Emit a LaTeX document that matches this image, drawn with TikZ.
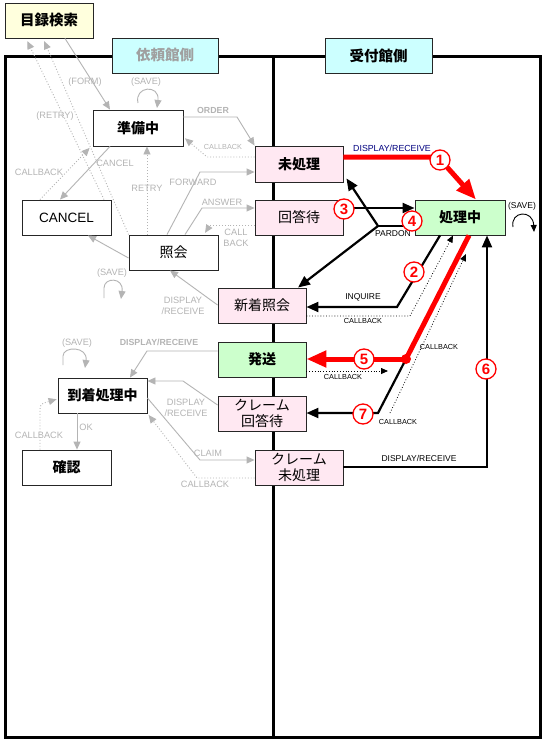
\documentclass[tikz,border=0pt]{standalone}
\usepackage{fontspec}
\setmainfont{Liberation Sans}
\newfontfamily\jp{Noto Sans CJK JP}
\usetikzlibrary{arrows.meta}
\definecolor{lg}{HTML}{B4B4B4}
\definecolor{pinkf}{HTML}{FFE8F2}
\definecolor{greenf}{HTML}{CCFFCC}
\definecolor{cyanf}{HTML}{CCFFFF}
\definecolor{yellowf}{HTML}{FFFFDD}
\definecolor{navyt}{HTML}{000080}
\definecolor{hdrgray}{HTML}{A0A0A0}
\begin{document}
\begin{tikzpicture}[x=1pt,y=-1pt,
  state/.style={draw=black!85,line width=0.9pt,minimum height=35pt,inner sep=0pt,fill=white,align=center},
  jpb/.style={font={\jp\bfseries\fontsize{14}{16}\selectfont}},
  jpr/.style={font={\jp\fontsize{14}{16}\selectfont}},
  glab/.style={text=lg,font={\fontsize{9.2}{10}\selectfont},inner sep=0pt,align=center},
  blab/.style={text=black,font={\fontsize{8.5}{10}\selectfont},inner sep=0pt},
  slab/.style={text=black,font={\fontsize{7.3}{9}\selectfont},inner sep=0pt},
  garr/.style={draw=lg,line width=0.9pt,-{Triangle[length=8pt,width=7pt]}},
  gdot/.style={garr,dotted},
  barr/.style={draw=black,line width=2.2pt,-{Triangle[length=12pt,width=10pt]}},
  bdot/.style={draw=black,line width=0.8pt,dotted,-{Triangle[length=7pt,width=6pt]}},
  rarr/.style={draw=red,line width=5pt,-{Triangle[length=20pt,width=16pt]}},
  num/.style={circle,draw=red,line width=1.3pt,fill=white,text=red,minimum size=20pt,inner sep=0pt,font={\bfseries\fontsize{15}{15}\selectfont}}
]
\useasboundingbox (0,0) rectangle (557,741);
\fill[white] (0,0) rectangle (557,741);
% frame
\draw[line width=3pt] (5,57) rectangle (540,737);
\draw[line width=3pt] (273,57) -- (273,737);
% headers
\node[state,fill=yellowf,minimum width=88pt,font={\jp\bfseries\fontsize{14.5}{16}\selectfont}] (mokuroku) at (49,20.5) {目録検索};
\node[state,fill=cyanf,minimum width=106pt,text=hdrgray,font={\jp\bfseries\fontsize{14.5}{16}\selectfont}] (irai) at (165,55.5) {依頼館側};
\node[state,fill=cyanf,minimum width=107pt,font={\jp\bfseries\fontsize{14.5}{16}\selectfont}] (uketsuke) at (378.5,55.5) {受付館側};
% left states
\node[state,jpb,minimum width=90pt,minimum height=36pt] (junbi) at (138,128) {準備中};
\node[state,minimum width=89pt,font={\fontsize{13.5}{16}\selectfont}] (cancel) at (66.5,217.5) {CANCEL};
\node[state,jpr,minimum width=89pt] (shokai) at (173.5,252.5) {照会};
\node[state,jpb,minimum width=89pt] (tochaku) at (102.5,395.5) {到着処理中};
\node[state,jpb,minimum width=89pt] (kakunin) at (66.5,467.5) {確認};
% right states
\node[state,jpb,fill=pinkf,minimum width=88pt,minimum height=36pt] (mishori) at (299,164) {未処理};
\node[state,jpr,fill=pinkf,minimum width=88pt] (kaitou) at (299,217.5) {回答待};
\node[state,jpr,fill=pinkf,minimum width=88pt] (shinchaku) at (262,305.5) {新着照会};
\node[state,jpb,fill=greenf,minimum width=88pt] (hasso) at (262,359.5) {発送};
\node[state,jpr,fill=pinkf,minimum width=88pt] (claimk) at (262,413.5) {クレーム\\回答待};
\node[state,jpr,fill=pinkf,minimum width=88pt] (claimm) at (299,467.5) {クレーム\\未処理};
\node[state,jpb,fill=greenf,minimum width=90pt] (shori) at (460,217.5) {処理中};

% ---------- left (gray) ----------
\draw[garr] (mokuroku.south -| 65,0) -- (junbi.north -| 110,0);
\node[glab] (lform) at (85,82) {(FORM)};
\draw[gdot,shorten >=3pt] (cancel.north -| 104,0) -- (mokuroku.south -| 26,0);
\draw[gdot,shorten >=3pt] (shokai.north west) -- (mokuroku.south -| 43,0);
\node[glab] (lretry1) at (55,116) {(RETRY)};
\draw[gdot,shorten >=2pt] (cancel.north -| 40,0) -- (junbi.south -| 91,0);
\node[glab] (lcb1) at (39,172) {CALLBACK};
\draw[garr] (junbi.south -| 110,0) -- (cancel.north -| 60,0);
\node[glab] (lcancel) at (115,163) {CANCEL};
\draw[garr] (shokai.west |- 0,258) -- (cancel.south -| 88,0);
% save loop junbi
\node[glab] (lsave1) at (146,82) {(SAVE)};
\draw[garr] (138,103) .. controls (134,86) and (160,84) .. (157,108);
% order
\draw[garr] (junbi.east |- 0,117) -- (237,117) -- (mishori.north west);
\node[glab,font={\bfseries\fontsize{8.8}{10}\selectfont}] (lorder) at (213,110) {ORDER};
\draw[gdot,shorten >=2pt] (mishori.west |- 0,157) -- (207,157) -- (junbi.east |- 0,137);
\node[glab,font={\fontsize{7.3}{9}\selectfont}] (lcb2) at (223,147) {CALLBACK};
\draw[gdot] (shokai.north -| 147,0) -- (junbi.south -| 147,0);
\node[glab] (lretry2) at (147,188) {RETRY};
\draw[garr] (shokai.north -| 167,0) -- (200,172) -- (mishori.west |- 0,172);
\node[glab] (lfwd) at (193,182) {FORWARD};
\draw[garr] (shokai.north -| 185,0) -- (202,208) -- (kaitou.west |- 0,208);
\node[glab] (lans) at (222,202) {ANSWER};
\draw[gdot,shorten >=2pt] (kaitou.west |- 0,225) -- (210,225) -- (shokai.north -| 204,0);
\node[glab,font={\fontsize{9.2}{11}\selectfont}] (lcb3) at (236,238) {CALL\\BACK};
% save loop shokai
\node[glab] (lsave2) at (112,273) {(SAVE)};
\draw[garr] (104,298) -- (104,288) .. controls (104,277) and (124,277) .. (121,299);
\draw[garr] (shinchaku.west |- 0,305) -- (shokai.south -| 170,0);
\node[glab,font={\fontsize{9.2}{11}\selectfont}] (ldr1) at (183,306) {DISPLAY\\/RECEIVE};
% save loop tochaku
\node[glab] (lsave3) at (77,343) {(SAVE)};
\draw[garr] (63,365) -- (63,356) .. controls (63,346) and (88,346) .. (85,368);
\draw[garr] (hasso.west |- 0,351) -- (147,351) -- (tochaku.north -| 130,0);
\node[glab,font={\bfseries\fontsize{8.8}{10}\selectfont}] (ldr2) at (159,342) {DISPLAY/RECEIVE};
\draw[garr] (claimk.west |- 0,405) -- (183,381) -- (tochaku.east |- 0,381);
\node[glab,font={\fontsize{9.2}{11}\selectfont}] (ldr3) at (186,408) {DISPLAY\\/RECEIVE};
\draw[garr] (tochaku.east |- 0,398) -- (200,460) -- (claimm.west |- 0,460);
\node[glab] (lclaim) at (208,453) {CLAIM};
\draw[gdot,shorten >=2pt] (claimm.west |- 0,478) -- (227,478) -- (197,478) -- (tochaku.south east);
\node[glab] (lcb4) at (205,484) {CALLBACK};
\draw[garr] (tochaku.south -| 77,0) -- (kakunin.north -| 77,0);
\node[glab] (lok) at (86,427) {OK};
\draw[gdot,shorten >=1pt] (kakunin.north -| 40,0) -- (40,412) .. controls (40,404) .. (tochaku.west |- 0,399);
\node[glab] (lcb5) at (39,435) {CALLBACK};

% ---------- right (black / red) ----------
\draw[rarr] (mishori.east |- 0,157) -- (438,157) -- (shori.north -| 476,0);
\node[text=navyt,font={\fontsize{8.8}{10}\selectfont},inner sep=0pt] (ldr4) at (392,148) {DISPLAY/RECEIVE};
% 2 inquire
\draw[barr] (shori.south -| 440,0) -- (397,307) -- (shinchaku.east |- 0,307);
\node[blab] (linq) at (363,297) {INQUIRE};
% 3
\draw[barr] (kaitou.east |- 0,208) -- (shori.west |- 0,208);
% 4 pardon
\coordinate (jn) at (378,226);
\draw[line width=2.2pt] (shori.west |- 0,226) -- (jn);
\draw[barr] (jn) -- ([xshift=3pt,yshift=4pt]mishori.south east);
\draw[barr] (jn) -- (shinchaku.north -| 298,0);
\node[blab] (lpardon) at (393,234) {PARDON};
% 5
\coordinate (dot) at (406,359);
\draw[red,line width=5pt] (shori.south -| 469,0) -- (dot);
\draw[rarr] (dot) -- (hasso.east |- 0,359);
% 7
\draw[barr] (dot) -- (378,413) -- (claimk.east |- 0,413);
\fill[red] (dot) circle (5pt);
% 6
\draw[barr] (claimm.east |- 0,467) -- (487,467) -- (shori.south -| 487,0);
\node[blab] (ldr5) at (419,458) {DISPLAY/RECEIVE};
% callbacks right
\draw[bdot] (shinchaku.east |- 0,316) -- (410,316) -- (shori.south -| 453,0);
\node[slab] (lcb6) at (363,321) {CALLBACK};
\coordinate (cbh) at (388,371);
\draw[bdot] (hasso.east |- 0,371) -- (cbh);
\node[slab] (lcb7) at (343,377) {CALLBACK};
\coordinate (cbk) at (390,413);
\coordinate (cbt) at (466,254);
\draw[bdot] (cbk) -- (cbt);
\node[slab] (lcb8) at (439,347) {CALLBACK};
\node[slab] (lcb9) at (398,422) {CALLBACK};
% save right
\node[blab] (lsave4) at (522,206) {(SAVE)};
\draw[line width=0.9pt,-{Triangle[length=7pt,width=6pt]}] (513,227) .. controls (510,211) and (533,209) .. (534,232);
% numbers
\node[num] (n1) at (440,160) {1};
\node[num] (n2) at (414,272) {2};
\node[num] (n3) at (344,209) {3};
\node[num] (n4) at (412,221) {4};
\node[num] (n5) at (364,359) {5};
\node[num] (n6) at (486,369) {6};
\node[num] (n7) at (363,414) {7};
\end{tikzpicture}
\end{document}
